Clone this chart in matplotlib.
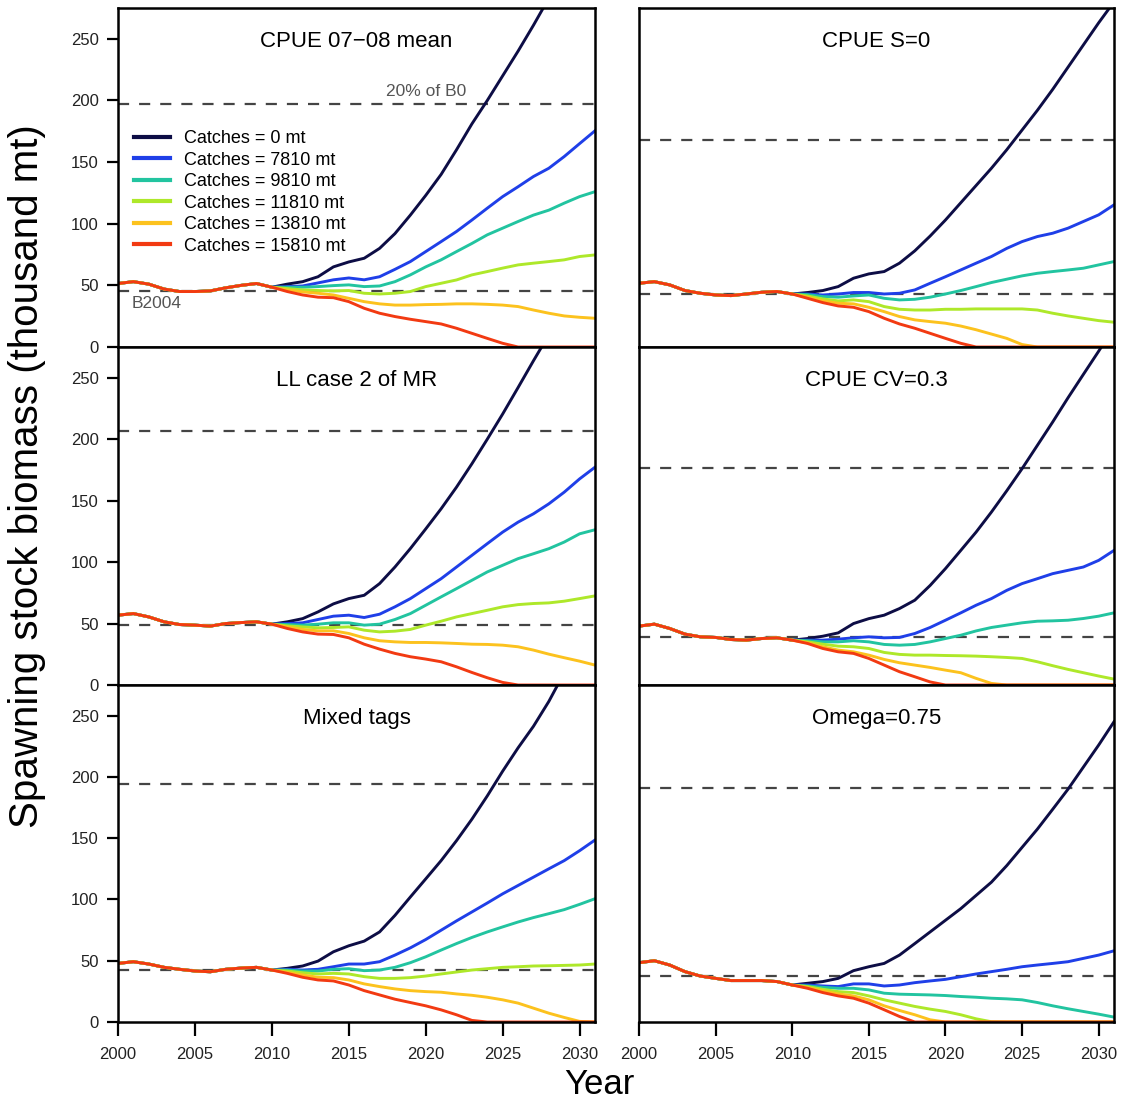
import matplotlib
matplotlib.use("Agg")
import matplotlib.pyplot as plt
import numpy as np

plt.rcParams['font.family'] = ['Liberation Sans', 'DejaVu Sans']

hist_years = list(range(2000, 2011))
proj_years = list(range(2011, 2032))

catch_labels = ["Catches = 0 mt", "Catches = 7810 mt", "Catches = 9810 mt",
                "Catches = 11810 mt", "Catches = 13810 mt", "Catches = 15810 mt"]
colors = ['#0d0d45', '#1f3fe8', '#22c4a0', '#aee82a', '#fcc21e', '#f23a12']

titles = ["CPUE 07\u221208 mean", "CPUE S=0", "LL case 2 of MR",
          "CPUE CV=0.3", "Mixed tags", "Omega=0.75"]

b0_20pct = [197, 168, 206.5, 176.4, 194, 191.2]
b2004 = [45.5, 43, 48.7, 39.2, 42.4, 37.5]

hist = [
    [51.5, 53, 51, 47, 45, 45, 45.5, 48, 50, 51.5, 48.5],
    [51.7, 53, 50.4, 45.8, 43.6, 42.2, 41.7, 43, 44.4, 45, 43],
    [56.8, 58.1, 55.4, 51.4, 49.2, 48.7, 47.9, 50, 50.8, 51.4, 49.5],
    [47.9, 49.5, 46, 41.4, 39.2, 38.7, 37, 36.5, 37.8, 38.4, 36.5],
    [47.8, 49.2, 47.3, 44.6, 43, 41.6, 41, 43, 44, 44.6, 42.4],
    [48.4, 50, 46.5, 41.1, 37.5, 35.6, 33.8, 33.8, 33.8, 33, 30.2],
]

# projections 2011-2031, per panel, per catch level
proj_p1 = [
    [51, 53, 57, 65, 69, 72, 80, 92, 107, 123, 140, 160, 181, 200, 220, 240, 261, 283, 305, 328, 352],
    [49, 49.5, 52, 54.5, 56, 54.5, 57, 63, 69.3, 77.4, 85.5, 93.7, 103, 112.6, 122, 130, 138.3, 145, 154.5, 165, 175.4],
    [48.5, 48.5, 49, 49.8, 50.4, 49, 49.5, 53, 58.5, 65, 70.7, 77.4, 84, 91, 96.4, 101.8, 107, 111, 116.7, 122, 126],
    [47.4, 46.3, 45.8, 45.5, 45.8, 43.6, 43, 43.6, 45, 49, 51.7, 54.4, 58.5, 61.2, 64, 66.6, 68, 69.3, 70.7, 73.4, 74.7],
    [46.3, 44.7, 43.6, 42.2, 39.5, 36.8, 35, 34, 34, 34.4, 34.6, 35, 35, 34.6, 34, 32.8, 30, 27.4, 25.2, 24.1, 23.3],
    [45, 42.2, 40.4, 40, 36.8, 31.4, 27.4, 24.7, 22.5, 20.6, 18.7, 15.2, 11.1, 7, 3, 0, 0, 0, 0, 0, 0],
]
proj_p2 = [
    [44.2, 45.8, 49, 55.8, 59.3, 61.2, 68, 78, 90, 103, 117, 131, 145, 160, 176, 192, 209, 227, 245, 263, 280],
    [43, 42.2, 43, 44.2, 44.2, 43, 43.6, 46.3, 51.7, 57, 62.5, 68, 73.4, 80, 85.5, 89.6, 92.3, 96.4, 101.8, 107.2, 115.3],
    [42.5, 40.9, 40.4, 41.4, 42.2, 39.5, 38.2, 38.7, 40.4, 43, 45.8, 49, 52.3, 55, 57.7, 59.8, 61.2, 62.5, 63.9, 66.6, 69.3],
    [41.4, 39, 37.4, 38.2, 36.8, 32.8, 30.6, 30, 30, 30.6, 30.6, 30.9, 30.9, 30.9, 30.9, 30, 27.4, 25.2, 23.3, 21.4, 20.1],
    [40.4, 37.4, 35.5, 35, 32.2, 28.7, 24.7, 22, 20.6, 19.3, 17, 14, 10.5, 7, 2, 0, 0, 0, 0, 0, 0],
    [39.5, 36, 33.3, 32.2, 28.7, 23.3, 18.7, 15.2, 11.1, 7, 3, 0, 0, 0, 0, 0, 0, 0, 0, 0, 0],
]
proj_p3 = [
    [51.4, 54, 59.5, 66, 70.3, 73, 82.5, 96, 111, 127, 143.4, 161, 180, 200, 220.5, 242, 263.8, 285, 307, 330, 353],
    [50, 50.6, 53.3, 56, 56.8, 54.9, 57.6, 63.6, 70.3, 78.4, 86.5, 96, 105.5, 115, 124.4, 132.5, 139.3, 147.4, 156.9, 167.7, 177.2],
    [49.2, 48.7, 49.5, 50.6, 50.6, 48.7, 49.5, 53.3, 58.1, 64.9, 71.7, 78.4, 85.2, 92, 97.4, 102.8, 106.8, 110.9, 116.3, 123, 126.3],
    [48.1, 47.3, 46.5, 46.8, 47.3, 44.6, 43.2, 43.8, 45.2, 48.7, 51.9, 55.4, 58.1, 60.8, 63.6, 65.4, 66.3, 66.8, 68.2, 70.3, 72.5],
    [47.3, 45.2, 44.1, 44.1, 41.9, 38.4, 36, 35.1, 34.6, 34.6, 34.3, 33.8, 33.2, 33, 32.4, 31.1, 28.4, 25.1, 22.2, 19.4, 16.2],
    [46, 43.2, 41.4, 41.1, 38.4, 33.2, 29.2, 25.7, 23, 21.1, 18.9, 14.8, 10.2, 5.9, 2.1, 0, 0, 0, 0, 0, 0],
]
proj_p4 = [
    [37.8, 39.7, 42.4, 50, 54, 56.8, 62.2, 69, 81, 94.7, 109.5, 124.4, 140.7, 158, 176, 195, 214, 233.7, 252.7, 271.6, 291],
    [36.5, 36.5, 37.3, 38.4, 39.2, 38.4, 38.7, 41.9, 46.8, 52.7, 58.7, 64.9, 70.3, 77, 82.5, 86.5, 90.6, 93.3, 96, 101.4, 109.5],
    [36, 35.1, 35.1, 36, 35.1, 33, 32.4, 33, 35.1, 37.8, 40.5, 44, 46.8, 48.7, 50.6, 51.9, 52.2, 52.7, 54.1, 56, 58.7],
    [35.1, 33.2, 31.6, 31.1, 29.7, 26.5, 24.9, 24.3, 24.3, 24, 23.8, 23.5, 23, 22.4, 21.6, 18.9, 15.7, 12.7, 10, 7.3, 4.8],
    [34.3, 31.1, 28.4, 27, 24.3, 20.8, 18.1, 16.2, 14.3, 12.1, 10, 5.4, 1.3, 0, 0, 0, 0, 0, 0, 0, 0],
    [33.8, 29.7, 27, 25.7, 21.6, 16.2, 10.8, 6.7, 2.5, 0, 0, 0, 0, 0, 0, 0, 0, 0, 0, 0, 0],
]
proj_p5 = [
    [43.8, 45.7, 49.7, 57.3, 62.2, 66, 73.5, 87, 102, 116.8, 131.7, 148, 165.5, 184.5, 204.7, 223.7, 241.3, 261.6, 285, 310, 335],
    [43, 42.4, 43, 45.1, 47.3, 47.3, 49.2, 54.6, 60.5, 67.3, 74.9, 82.5, 89.8, 97.1, 104.6, 111.4, 118.2, 125, 131.7, 139.8, 148.5],
    [42.4, 41.6, 41.6, 43, 43.5, 41.9, 42.4, 44.6, 48.4, 53.2, 58.7, 64, 69, 73.5, 77.6, 81.6, 85.2, 88.4, 91.7, 96, 100.6],
    [41.6, 40.2, 39.2, 39.7, 39.2, 37, 35.6, 35.6, 36.2, 37.5, 39.2, 40.8, 42.4, 43.5, 44.6, 45.1, 45.7, 45.9, 46.2, 46.5, 47.3],
    [40.5, 38.4, 36.5, 36.2, 34.3, 31.1, 28.9, 27, 25.6, 24.8, 24.3, 22.9, 21.8, 20.2, 18.1, 15.4, 11.3, 7.2, 3.7, 0.5, 0],
    [39.7, 36.5, 34.3, 33.5, 30.2, 25.6, 22.1, 18.6, 15.9, 13.2, 9.9, 5.9, 1.3, 0, 0, 0, 0, 0, 0, 0, 0],
]
proj_p6 = [
    [31.6, 33, 35.6, 41.9, 45.1, 47.8, 54.6, 64, 73.5, 83, 92.5, 103.3, 114.1, 127.6, 142.5, 157.4, 173.6, 190, 208, 226, 245],
    [30.2, 29.4, 28.9, 31.1, 31.1, 29.4, 30.2, 32.1, 33.5, 34.8, 37, 39.2, 41.1, 43, 45.1, 46.5, 47.8, 49.2, 51.9, 54.6, 58.1],
    [29.4, 28.3, 27.5, 27.5, 26.2, 23.5, 22.7, 22.4, 22.1, 21.6, 20.8, 20.2, 19.4, 18.9, 18.1, 15.9, 13.2, 10.8, 8.6, 6.4, 4],
    [28.9, 26.7, 24.8, 24, 21.3, 18.1, 15.4, 12.7, 10.5, 8.6, 5.9, 2.6, 0.2, 0, 0, 0, 0, 0, 0, 0, 0],
    [28.1, 25.4, 22.9, 21.3, 18.1, 13.2, 9.4, 5.9, 1.8, 0, 0, 0, 0, 0, 0, 0, 0, 0, 0, 0, 0],
    [27.5, 24, 21.3, 19.4, 15.4, 10, 4.5, 0, 0, 0, 0, 0, 0, 0, 0, 0, 0, 0, 0, 0, 0],
]
projections = [proj_p1, proj_p2, proj_p3, proj_p4, proj_p5, proj_p6]

y_ticks = [0, 50, 100, 150, 200, 250]
x_ticks = [2000, 2005, 2010, 2015, 2020, 2025, 2030]

W, H = 1124, 1104
fig = plt.figure(figsize=(W / 100, H / 100), dpi=100)

col_x = [(118, 595), (639, 1114)]
row_y = [(8, 347), (347, 685), (685, 1022)]

axes = []
for i in range(6):
    r, c = divmod(i, 2)
    x0, x1 = col_x[c]
    y0, y1 = row_y[r]
    ax = fig.add_axes([x0 / W, 1 - y1 / H, (x1 - x0) / W, (y1 - y0) / H])
    axes.append(ax)

    for k in range(6):
        xs = hist_years + proj_years
        ys = hist[i] + projections[i][k]
        ax.plot(xs, ys, color=colors[k], lw=2.1, label=catch_labels[k],
                solid_joinstyle='round')

    ax.axhline(b0_20pct[i], color='#444444', lw=1.6, dashes=(5, 4.5), zorder=1)
    ax.axhline(b2004[i], color='#444444', lw=1.6, dashes=(5, 4.5), zorder=1)

    ax.set_xlim(2000, 2031)
    ax.set_ylim(0, 275)
    ax.text(0.5, 0.9, titles[i], transform=ax.transAxes, ha='center',
            va='center', fontsize=16)

    for s in ax.spines.values():
        s.set_linewidth(1.8)
        s.set_color('black')

    ax.set_xticks(x_ticks)
    ax.set_yticks(y_ticks)
    ax.tick_params(axis='both', direction='out', width=1.6, labelsize=12,
                   colors='black', labelcolor='#222222')
    ax.tick_params(axis='y', length=8, pad=6)
    ax.tick_params(axis='x', length=10, pad=8)
    if c == 1:
        ax.tick_params(axis='y', left=False, labelleft=False)
    if r < 2:
        ax.tick_params(axis='x', bottom=False, labelbottom=False)

ax0 = axes[0]
ax0.text(2020, 201, "20% of B0", ha='center', va='bottom', fontsize=12.5,
         color='#555555')
ax0.text(2000.9, 35, "B2004", ha='left', va='center', fontsize=12.5,
         color='#555555')
leg = ax0.legend(loc='upper left', bbox_to_anchor=(0.033, 0.64), frameon=False,
                 fontsize=13, handlelength=2.0, handletextpad=0.8,
                 labelspacing=0.25, borderpad=0, borderaxespad=0)
for line in leg.get_lines():
    line.set_linewidth(3)

fig.text(0.024, 1 - 476 / H, "Spawning stock biomass (thousand mt)",
         rotation=90, ha='center', va='center', fontsize=29)
fig.text(599 / W, 1 - 1085 / H, "Year", ha='center', va='center', fontsize=25)

fig.savefig("out.png", dpi=100)
